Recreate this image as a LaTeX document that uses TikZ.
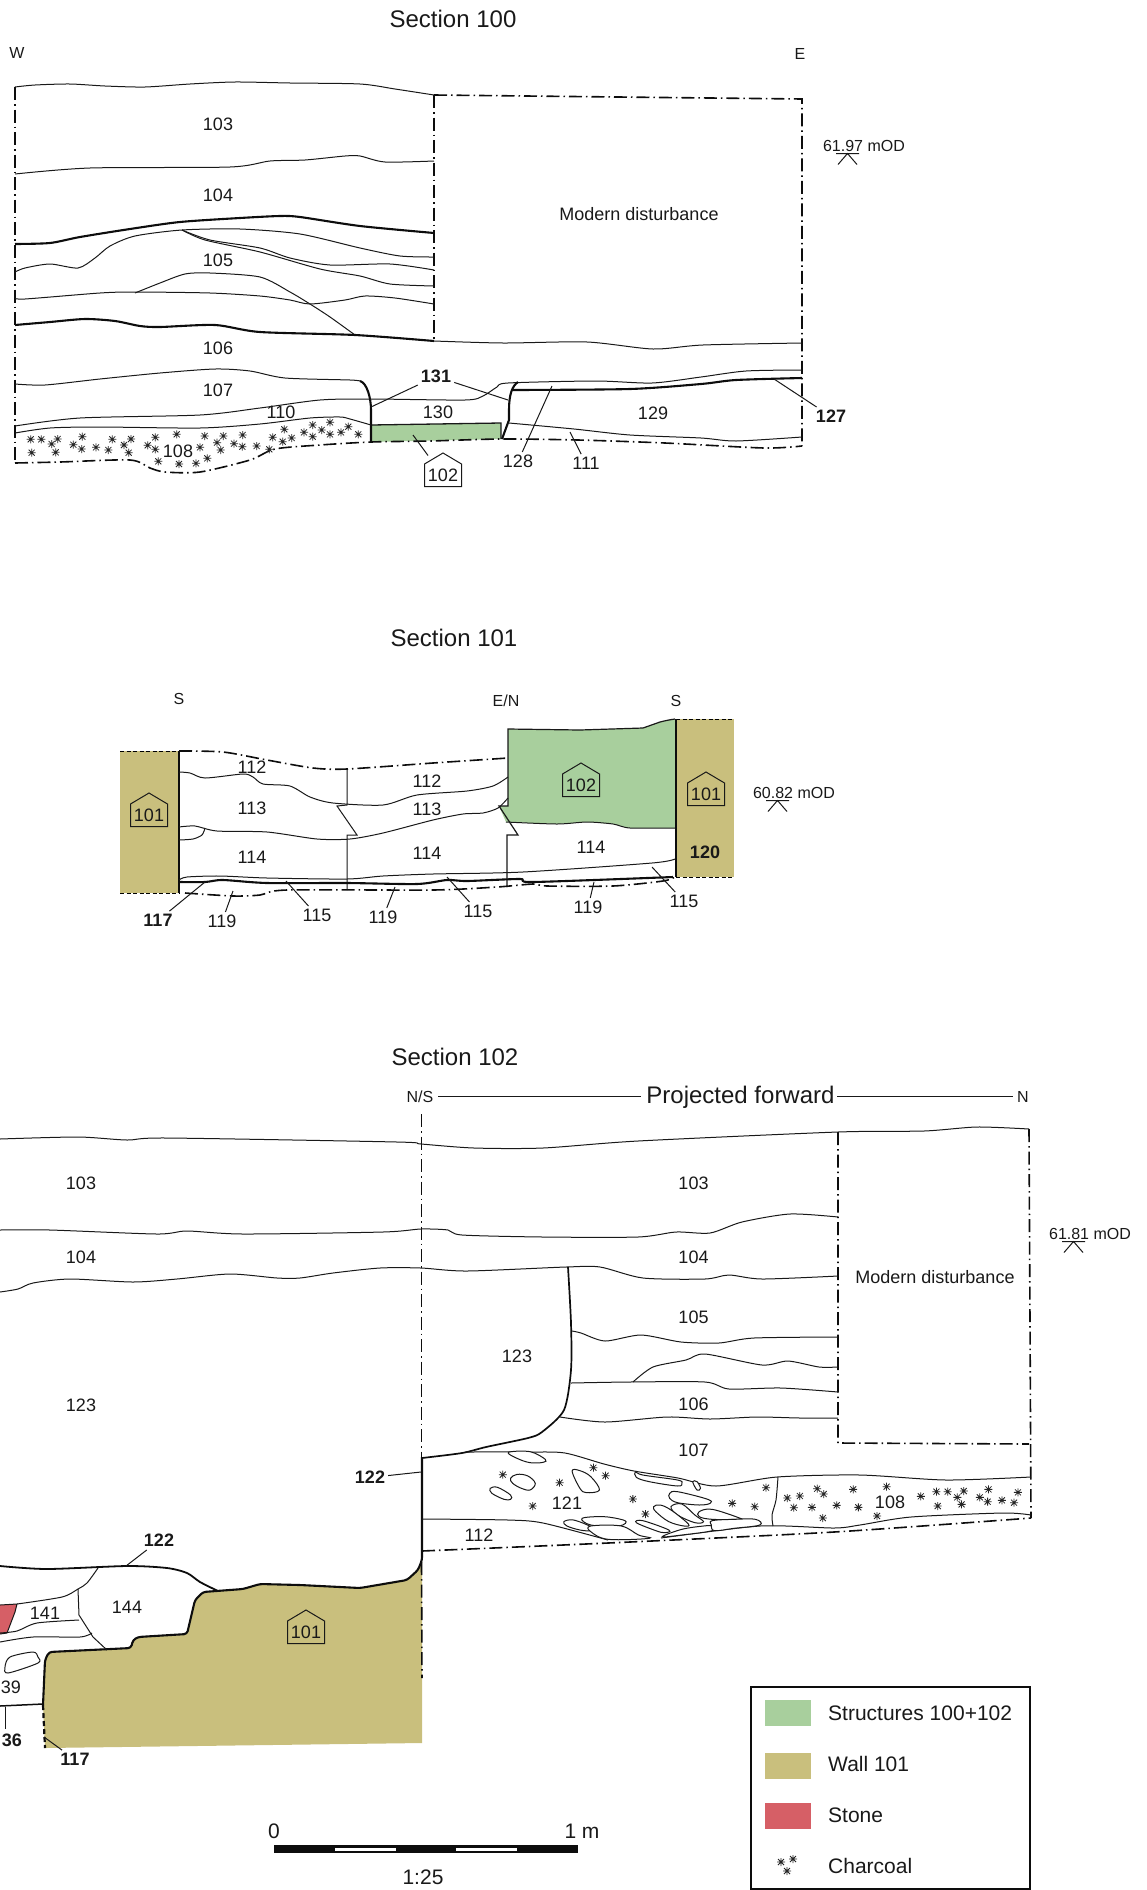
\documentclass[tikz,border=0pt]{standalone}
\usepackage{fontspec}
\setmainfont{Liberation Sans}
\definecolor{structgreen}{HTML}{A8CF9D}
\definecolor{walltan}{HTML}{C9BF7D}
\definecolor{stonered}{HTML}{D65F66}
\tikzset{
    seam/.style={line width=1pt,black!90},
    cut/.style={line width=2.1pt,black!95,line join=round},
    limit/.style={line width=1.6pt,black!95,dash pattern=on 13pt off 4pt on 1.5pt off 4pt},
    leader/.style={line width=1pt,black!90},
    lab/.style={font=\fontsize{18}{20}\selectfont,text=black!90,inner sep=3pt,yshift=-.5pt},
    boldlab/.style={lab,font=\fontsize{18}{20}\selectfont\bfseries},
    dir/.style={font=\fontsize{16}{18}\selectfont,text=black!90,inner sep=1pt},
    title/.style={font=\fontsize{24}{26}\selectfont,text=black!90,inner sep=1pt},
    keylab/.style={font=\fontsize{21}{23}\selectfont,text=black!90,inner sep=1pt,anchor=west},
    stone/.style={line width=1pt,black!90,fill=white},
    charc/.pic={\draw[line width=.8pt,black!85] (-4,0) -- (4,0) (0,-4) -- (0,4) (-3,-3) -- (3,3) (-3,3) -- (3,-3);}
}
% wavy layer line through a list of points
\newcommand\layer[2][seam]{\draw[#1] plot[smooth,tension=.45] coordinates {#2};}
% context number in its little house
\newcommand\housebox[4]{
    \node[lab,inner sep=0pt] (#1) at (#2,#3) {#4};
    \draw[line width=1pt,black!90] (#2,#3) ++(-18.5,11.5) -- ++(37,0) -- ++(0,-22.5) -- ++(-18.5,-11) -- ++(-18.5,11) -- cycle;
}
% height mark
\newcommand\level[4]{
    \node[dir] (#1) at (#2,#3) {#4};
    \coordinate (#1a) at ([shift={(-28,7.5)}]#1.center);
    \coordinate (#1b) at ([shift={(-5,7.5)}]#1.center);
    \coordinate (#1c) at ([shift={(-16.5,7.5)}]#1.center);
    \coordinate (#1d) at ([shift={(-26,18.5)}]#1.center);
    \coordinate (#1e) at ([shift={(-7,18.5)}]#1.center);
    \draw[leader] (#1a) -- (#1b) (#1d) -- (#1c) -- (#1e);
}
\def\wallthree{(43,1705) -- (45,1660) -- (49,1652) -- (131,1648) -- (133,1640) -- (138,1637) -- (187,1634) -- (195,1600) -- (203,1592) -- (243,1589) -- (260,1584) -- (300,1585) -- (360,1588) -- (407,1580) -- (418,1570) -- (422,1560)}

\begin{document}
\begin{tikzpicture}[x=1pt,y=-1pt]
\useasboundingbox (0,0) rectangle (1147,1890);

%%% Section 100
\fill[structgreen] (371,425) -- (501,423) -- (501,439) -- (371,442) -- cycle;
\draw[line width=1.3pt,black!90] (371,425) -- (501,423) -- (501,439);
\draw[limit] (15,87) -- (15,463);
\draw[limit] (434,95) -- (434,341);
\draw[limit] (434,95) -- (802,99) -- (802,446);
\layer[limit]{(15,463) (60,462) (130,460) (150,468) (165,472) (200,472) (250,460) (275,449) (320,445) (371,442) (430,441) (501,439) (578,440) (665,443) (764,448) (802,446)}
\layer{(15,87) (35,85) (70,84) (105,86) (145,87) (190,84) (235,82) (290,83) (360,84) (395,89) (434,95)}
\layer{(15,174) (90,168) (230,167) (270,161) (305,160) (345,156) (360,156) (385,162) (434,161)}
\layer[cut]{(15,244) (50,243) (80,237) (130,229) (180,222) (240,218) (280,216) (300,217) (360,226) (434,233)}
\layer{(15,272) (25,268) (50,264) (78,268) (95,258) (110,246) (135,236) (182,230) (240,229) (300,234) (360,248) (400,256) (434,257)}
\layer{(182,230) (210,240) (260,248) (290,258) (330,265) (390,264) (434,270)}
\layer{(182,230) (205,240) (260,252) (320,269) (360,276) (390,284) (434,286)}
\layer{(135,293) (160,283) (185,274) (210,273) (260,277) (290,292) (310,304) (330,317) (355,335)}
\layer{(15,298) (25,299) (100,293) (135,292) (210,293) (260,296) (290,300) (310,304) (345,300) (365,296) (395,298) (434,304)}
\layer[cut]{(15,325) (50,322) (85,319) (115,321) (140,326) (160,327) (215,325) (260,332) (355,335) (434,341)}
\layer{(434,341) (503,343) (587,342) (653,349) (703,345) (802,343)}
\layer{(15,384) (45,385) (100,379) (160,373) (215,369) (250,371) (285,378) (350,380) (360,381)}
\draw[cut] (360,381) .. controls (367,383) and (371,398) .. (371,410) -- (371,442);
\layer{(15,426) (80,418) (200,415) (260,408) (320,400) (371,399) (465,400) (483,396) (497,387) (508,383) (596,381) (652,383) (701,377) (746,371) (802,370)}
\layer{(15,433) (50,428) (100,427) (200,428) (260,424) (310,418) (340,417) (350,419) (371,425)}
\draw[cut] (518,382) .. controls (512,386) and (509,395) .. (509,410) -- (509,420) -- (502,439);
\layer[cut]{(513,390) (630,389) (701,384) (736,380) (802,378)}
\layer{(509,423) (574,429) (630,435) (701,438) (736,441) (802,437)}
\foreach \cx/\cy in {92/1318,124/1318,173/1317,155/1332,95/1358,167/1357,247/1310,220/1334,245/1347,288/1342,325/1350,337/1318,372/1335,393/1317,386/1358,466/1312,443/1336,466/1348,530/1303,614/1308,600/1342,670/1308,651/1328,662/1350,728/1305,702/1331,727/1340,770/1338,808/1348,818/1312,848/1325,875/1314,853/1288,938/1275,990/1267,965/1290,912/1297,938/1310,990/1303,1023/1297,1045/1280,1075/1303,475/1384,537/1392,588/1390,622/1375}
    \pic at ({\cx/3},{\cy/3}) {charc};

\node[title] (a100) at (453,19) {Section 100};
\node[dir] (aw) at (17,53) {W};
\node[dir] (ae) at (800,54) {E};
\node[lab] (a103) at (218,124) {103};
\node[lab] (a104) at (218,195) {104};
\node[lab] (a105) at (218,260) {105};
\node[lab] (a106) at (218,348) {106};
\node[lab] (a107) at (218,390) {107};
\node[lab] (a110) at (281,412) {110};
\node[lab] (a108) at (178,451) {108};
\node[lab] (a130) at (438,412) {130};
\node[lab] (a129) at (653,413) {129};
\node[boldlab] (a131) at (436,376) {131};
\node[lab] (a128) at (518,461) {128};
\node[lab] (a111) at (586,463) {111};
\node[boldlab] (a127) at (831,416) {127};
\node[lab] (amod) at (639,214) {Modern disturbance};
\housebox{ah102}{443}{475}{102}
\level{alev}{864}{146}{61.97 mOD}
\coordinate (e131a) at (371,407);
\coordinate (e131b) at (508,400);
\coordinate (e128) at (552,386);
\coordinate (e111) at (570,432);
\coordinate (e127) at (774,379);
\coordinate (e102) at (413,435);
\draw[leader] (a131) -- (e131a);
\draw[leader] (a131) -- (e131b);
\draw[leader] (a128) -- (e128);
\draw[leader] (a111) -- (e111);
\draw[leader] (a127) -- (e127);
\draw[leader] (ah102) ++(-15,-20) -- (e102);

%%% Section 101
\fill[walltan] (120,751) rectangle (179,893);
\fill[walltan] (676,719) rectangle (734,877);
\fill[structgreen] (508,729) -- (580,730) -- (643,728) -- (660,722) -- (675,719) -- (675,828) -- (630,828) -- (613,824) -- (587,822) -- (557,824) -- (506,822) -- (499,806) -- (508,806) -- cycle;
\draw[line width=1.2pt,black!90] (675,719) .. controls (668,720) and (664,721) .. (660,722) -- (643,728) -- (580,730) -- (508,729) -- (508,806) -- (499,806) -- (518,835) -- (507,835) -- (507,887);
\layer{(506,822) (557,824) (587,822) (613,824) (630,828) (675,828)}
\draw[dash pattern=on 4pt off 2.5pt,line width=1pt] (120,751) -- (179,751) (120,893) -- (179,893);
\draw[dash pattern=on 4pt off 2.5pt,line width=1pt] (676,719) -- (734,719) (676,877) -- (734,877);
\draw[line width=2.2pt,black!95] (179,751) -- (179,893);
\draw[line width=2.2pt,black!95] (676,719) -- (676,877);
\layer[limit]{(179,751) (223,752) (267,760) (313,768) (347,769) (433,763) (508,758)}
\layer[limit]{(185,893) (233,896) (260,895) (287,890) (433,890) (497,887) (533,884) (547,886) (613,886) (663,881) (675,877)}
\draw[line width=1pt,black!90] (347,769) -- (347,805) -- (337,806) -- (357,835) -- (347,835) -- (347,890);
\layer{(179,772) (190,773) (205,778) (243,774) (253,777) (263,784) (290,786) (310,797) (333,803) (383,805) (417,795) (467,791) (493,786) (508,777)}
\layer{(179,827) (195,826) (217,831) (267,832) (317,839) (350,839) (383,833) (433,820) (463,814) (483,813) (498,808) (508,798)}
\layer{(179,840) (193,839) (202,835) (205,828)}
\layer{(179,880) (187,877) (220,876) (267,878) (347,879) (383,876) (433,874) (523,872) (652,863) (675,859)}
\layer[cut]{(179,882) (205,882) (223,880) (267,883) (347,883) (417,884) (447,880) (467,881) (520,879) (533,882) (673,877)}

\node[title] (b101) at (454,638) {Section 101};
\node[dir] (bs) at (179,699) {S};
\node[dir] (ben) at (506,701) {E/N};
\node[dir] (bt) at (676,701) {S};
\node[lab] (b112a) at (252,767) {112};
\node[lab] (b112b) at (427,781) {112};
\node[lab] (b113a) at (252,808) {113};
\node[lab] (b113b) at (427,809) {113};
\node[lab] (b114a) at (252,857) {114};
\node[lab] (b114b) at (427,853) {114};
\node[lab] (b114c) at (591,847) {114};
\node[boldlab] (b117) at (158,920) {117};
\node[lab] (b119a) at (222,921) {119};
\node[lab] (b115a) at (317,915) {115};
\node[lab] (b119b) at (383,917) {119};
\node[lab] (b115b) at (478,911) {115};
\node[lab] (b119c) at (588,907) {119};
\node[lab] (b115c) at (684,901) {115};
\node[boldlab] (b120) at (705,852) {120};
\housebox{bh101a}{149}{815}{101}
\housebox{bh102}{581}{785}{102}
\housebox{bh101b}{706}{794}{101}
\level{blev}{794}{793}{60.82 mOD}
\coordinate (e117) at (205,882);
\coordinate (e119a) at (233,891);
\coordinate (e115a) at (286,881);
\coordinate (e119b) at (395,887);
\coordinate (e115b) at (447,877);
\coordinate (e119c) at (594,882);
\coordinate (e115c) at (652,867);
\draw[leader] (b117) -- (e117);
\draw[leader] (b119a) -- (e119a);
\draw[leader] (b115a) -- (e115a);
\draw[leader] (b119b) -- (e119b);
\draw[leader] (b115b) -- (e115b);
\draw[leader] (b119c) -- (e119c);
\draw[leader] (b115c) -- (e115c);

%%% Section 102
\fill[walltan] \wallthree -- (422,1743) -- (45,1748) -- cycle;
\fill[stonered] (0,1605) -- (17,1604) -- (15,1612) -- (7,1633) -- (0,1634) -- cycle;
\draw[line width=1pt,black!90] (0,1605) -- (17,1604) -- (15,1612) -- (7,1633) -- (0,1634);
\draw[limit] (421.5,1114) -- (421.5,1457);
\draw[limit] (421.5,1562) -- (422,1678);
\draw[limit] (838,1132) -- (838,1443) -- (1029,1444);
\draw[limit] (1029,1129) -- (1031,1518);
\layer[limit]{(422,1551) (608,1543) (834,1532) (1031,1518)}
\draw[line width=2.2pt,black!95,dash pattern=on 5pt off 3pt] (43,1705) -- (45,1748);
\draw[cut,rounded corners=3pt] \wallthree -- (422,1457);
\layer{(0,1139) (78,1137) (127,1140) (167,1138) (397,1142) (421,1144) (474,1148) (543,1148) (638,1141) (838,1132) (924,1131) (977,1127) (1029,1129)}
\layer{(0,1230) (50,1230) (157,1234) (187,1231) (243,1234) (383,1232) (421,1229) (448,1230) (462,1235) (543,1237) (638,1237) (676,1232) (710,1233) (742,1222) (790,1214) (838,1217)}
\layer{(0,1292) (18,1289) (33,1283) (70,1279) (133,1282) (177,1279) (230,1274) (277,1278) (300,1278) (333,1273) (380,1268) (421,1268) (467,1271) (566,1267) (600,1267) (643,1278) (705,1279) (729,1275) (762,1279) (838,1276)}
\layer[{line width=1.7pt,black!95}]{(568,1267) (571,1323) (571,1370) (564,1410) (542,1432) (528,1438) (486,1447) (462,1453) (422,1458)}
\layer{(572,1331) (581,1333) (605,1341) (641,1335) (681,1342) (719,1343) (754,1338) (838,1337)}
\layer{(571,1383) (629,1382) (705,1382) (729,1389) (781,1388) (838,1392)}
\layer{(633,1382) (653,1367) (686,1360) (705,1354) (762,1365) (788,1361) (819,1367) (838,1367)}
\layer{(560,1417) (605,1422) (667,1417) (710,1419) (757,1417) (800,1418) (838,1418)}
\layer{(465,1452) (530,1452) (565,1453) (604,1464) (634,1471) (678,1478) (716,1486) (777,1477) (860,1475) (946,1480) (1031,1477)}
\layer{(422,1519) (508,1520) (543,1523) (608,1540)}
\layer{(661,1538) (760,1526) (834,1528) (860,1525) (911,1517) (1003,1513) (1031,1515)}
\layer{(778,1477) (776,1500) (772,1515) (773,1526)}
\draw[leader] (438,1096.5) -- (641,1096.5);
\draw[leader] (837,1096.5) -- (1013,1096.5);
% cut 122 and the fills below it
\layer[{line width=1.8pt,black!95}]{(0,1566) (47,1569) (127,1566) (167,1568) (187,1573) (200,1582) (218,1591)}
\layer{(98,1568) (87,1583) (78,1589) (62,1597) (17,1604)}
\draw[line width=1pt,black!90] (78,1589) -- (79,1615) -- (93,1637) -- (107,1650);
\layer{(0,1633) (17,1631) (37,1623) (79,1620)}
\layer{(0,1642) (33,1637) (80,1637) (92,1633)}
\draw[stone] plot[smooth cycle,tension=.5] coordinates {(5,1667) (10,1657) (33,1652) (38,1657) (38,1663) (8,1673)};
\draw[line width=1.5pt,black!95] (0,1706) -- (43,1704);

% stones read off at another scale
\begin{scope}[xshift=400pt,yshift=-1400pt,x=.4336pt,y=-.3333pt]
\foreach \pts in {
    {(250,157) (270,175) (300,188) (330,187) (335,178) (300,155)},
    {(255,235) (270,223) (295,228) (312,250) (300,270) (280,265) (260,250)},
    {(208,265) (225,262) (255,285) (255,298) (240,298) (212,280)},
    {(397,213) (415,212) (440,230) (460,270) (430,278) (415,265)},
    {(543,215) (560,225) (640,240) (650,250) (640,258) (575,245) (545,232)},
    {(675,245) (685,245) (693,265) (685,270)},
    {(622,280) (640,275) (710,298) (715,310) (690,315) (640,308) (622,295)},
    {(625,320) (650,312) (680,345) (700,365) (680,368) (640,345)},
    {(585,320) (600,315) (625,330) (665,372) (655,378) (620,365) (590,335)},
    {(690,335) (720,328) (785,355) (780,358) (720,358) (690,350)},
    {(420,355) (470,350) (515,360) (520,370) (500,378) (440,375)},
    {(378,365) (400,360) (440,380) (440,392) (415,390) (385,378)},
    {(440,378) (510,378) (550,405) (575,415) (480,418) (440,395)},
    {(545,368) (560,362) (620,390) (610,398) (590,392)},
    {(605,410) (650,388) (700,378) (720,378) (720,392) (650,405)},
    {(720,362) (770,358) (820,358) (830,375) (770,385) (725,392) (718,375)}}
    \draw[stone] plot[smooth cycle,tension=.6] coordinates \pts;
\end{scope}
\foreach \cx/\cy in {237/224,446/203,474/227,368/248,537/297,306/318,566/342,766/310,818/320,844/263,893/294,922/288,962/266,977/282,908/323,950/322,1007/316,1045/268,1057/322,975/354,1122/260,1100/348,1201/289,1237/275,1263/275,1300/273,1285/292,1295/313,1240/318,1337/292,1357/268,1355/305,1388/301,1416/308,1425/277}
    \pic at ({400+\cx/2.306},{1400+\cy/3}) {charc};

\node[title] (c102) at (455,1057) {Section 102};
\node[dir] (cns) at (420,1097) {N/S};
\node[dir] (cn) at (1023,1097) {N};
\node[title] (cproj) at (740.5,1097) {Projected forward};
\node[lab] (c103a) at (81,1183) {103};
\node[lab] (c103b) at (693.5,1183) {103};
\node[lab] (c104a) at (81,1257) {104};
\node[lab] (c104b) at (693.5,1257) {104};
\node[lab] (c105) at (693.5,1317) {105};
\node[lab] (c123a) at (81,1405) {123};
\node[lab] (c123b) at (517,1356) {123};
\node[lab] (c106) at (693.5,1404) {106};
\node[lab] (c107) at (693.5,1450) {107};
\node[lab] (cmod) at (935,1277) {Modern disturbance};
\node[lab] (c121) at (567,1503) {121};
\node[lab] (c108) at (890,1502) {108};
\node[lab] (c112) at (479,1535) {112};
\node[lab] (c141) at (45,1613) {141};
\node[lab] (c144) at (127,1607) {144};
\node[lab] (c139) at (11,1687) {39};
\node[boldlab] (c136) at (12,1740) {36};
\node[boldlab] (c122a) at (370,1477) {122};
\node[boldlab] (c122b) at (159,1540) {122};
\node[boldlab] (c117) at (75,1759) {117};
\housebox{ch101}{306}{1632}{101}
\level{clev}{1090}{1234}{61.81 mOD}
\coordinate (f122a) at (421,1472);
\coordinate (f122b) at (126,1566);
\coordinate (f117) at (44,1737);
\coordinate (f136) at (5,1707);
\draw[leader] (c122a) -- (f122a);
\draw[leader] (c122b) -- (f122b);
\draw[leader] (c117) -- (f117);
\draw[leader] (c136) ++(-7,-12) -- (f136);

%%% scale
\fill[black!95] (274,1845) rectangle (577.5,1853);
\fill[white] (335,1847.5) rectangle (396,1851);
\fill[white] (456,1847.5) rectangle (517,1851);
\node[keylab,anchor=center] (s0) at (274,1831) {0};
\node[keylab,anchor=center] (s1) at (582,1831) {1 m};
\node[keylab,anchor=center] (s25) at (423,1877) {1:25};

%%% key
\draw[line width=2.5pt,black!95] (751,1687) rectangle (1030,1889);
\fill[structgreen] (765,1700) rectangle (811,1726);
\fill[walltan] (765,1753) rectangle (811,1779);
\fill[stonered] (765,1803) rectangle (811,1829);
\pic at (781,1862) {charc};
\pic at (793,1859) {charc};
\pic at (787,1871) {charc};
\node[keylab] (k1) at (827,1713) {Structures 100+102};
\node[keylab] (k2) at (827,1764) {Wall 101};
\node[keylab] (k3) at (827,1815) {Stone};
\node[keylab] (k4) at (827,1866) {Charcoal};
\end{tikzpicture}
\end{document}
